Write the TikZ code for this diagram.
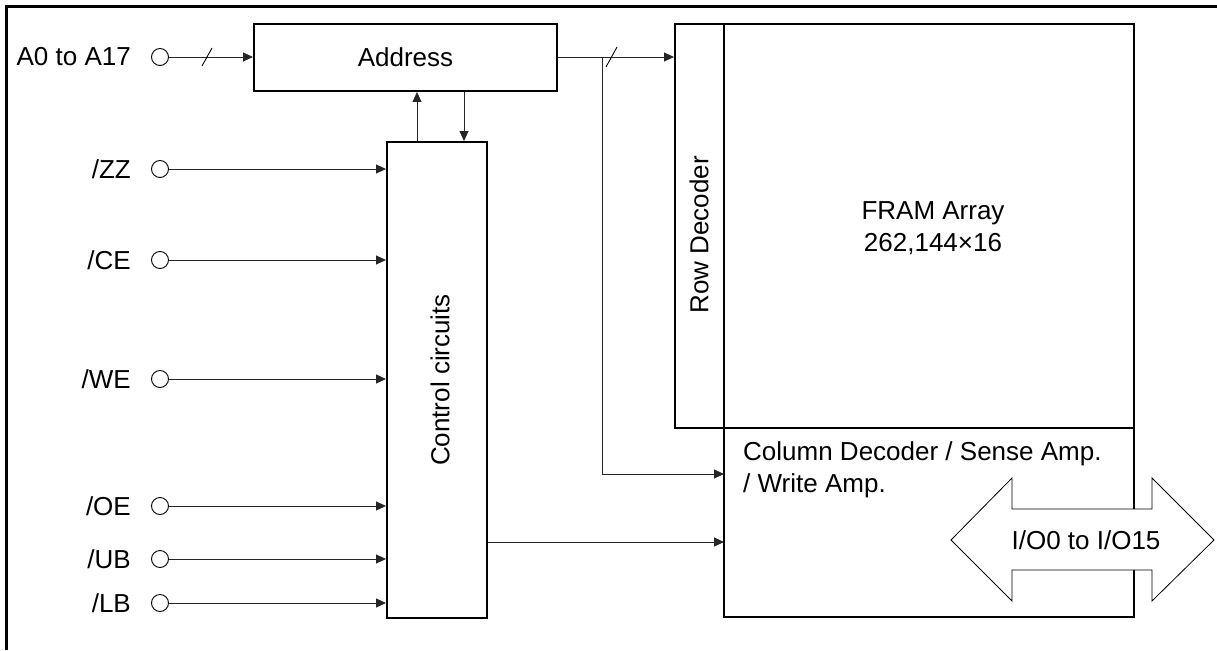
\documentclass[tikz,border=0pt]{standalone}
\usepackage{fontspec}
\setmainfont{Liberation Sans}
\usetikzlibrary{arrows.meta}

\begin{document}
\begin{tikzpicture}[
    x=1pt, y=-1pt,
    every node/.style={font=\fontsize{26}{32}\selectfont, inner sep=0pt},
    >={Triangle[length=10pt, width=9pt]},
    blk/.style={draw, line width=2pt},
    term/.style={circle, draw, line width=0.9pt, minimum size=17pt},
    sig/.style={->, line width=0.9pt, black!85},
]
\useasboundingbox (0,0) rectangle (1217,650);

% === Frame ===
\draw[line width=3pt] (6,650) -- (6,6.5) -- (1217,6.5);

% === Blocks ===
\node[blk, minimum width=303pt, minimum height=67pt] (addr) at (405.5,57.5) {Address};
\node[blk, minimum width=100pt, minimum height=476pt] (ctrl) at (437,380) {};
\node[rotate=90] (ctrltxt) at (440,380) {Control circuits};
\node[blk, minimum width=49pt, minimum height=404pt] (rowdec) at (699.5,226) {};
\node[rotate=90] (rowtxt) at (699,235) {Row Decoder};
\node[blk, minimum width=410pt, minimum height=404pt] (fram) at (929,226) {};
\node[align=center] (framtxt) at (933,228) {FRAM Array\\262,144×16};
\node[blk, minimum width=410pt, minimum height=189pt] (coldec) at (929,522.5) {};
\node[align=left, anchor=west] (coltxt) at (743,470) {Column Decoder / Sense Amp.\\/ Write Amp.};

% === Address input ===
\node[term] (pa) at (160,57) {};
\node[anchor=base east] (la) at (131,66) {A0 to A17};
\draw[sig] (pa) -- (pa -| addr.west);
\draw[line width=0.9pt] (202,66) -- (212,48);

% === Control inputs ===
\foreach \nm/\txt/\yy in {zz/ZZ/169, ce/CE/260, we/WE/379, oe/OE/506, ub/UB/559, lb/LB/603} {
    \node[term] (p\nm) at (160,\yy) {};
    \node[anchor=base east] (l\nm) at (131,\yy+9) {/\txt};
    \draw[sig] (p\nm) -- (p\nm -| ctrl.west);
}

% === Address <-> control ===
\draw[sig] ([xshift=-20pt]ctrl.north) -- ([xshift=-20pt]ctrl.north |- addr.south);
\draw[sig] ([xshift=27pt]ctrl.north |- addr.south) -- ([xshift=27pt]ctrl.north);

% === Address bus to decoders ===
\coordinate (br) at (602,57);
\coordinate (bc) at (724,474);
\draw[sig] (addr.east |- br) -- (br -| rowdec.west);
\draw[line width=0.9pt] (606,67) -- (617,47);
\draw[sig] (br) |- (bc);

% === Control to column decoder ===
\coordinate (cc) at (724,542);
\draw[sig] (cc -| ctrl.east) -- (cc);

% === Data bus ===
\draw[line width=0.8pt, fill=white]
    (951,540) -- (1012,478) -- (1012,509) -- (1152,509) -- (1152,478) -- (1214,540)
    -- (1152,601) -- (1152,570) -- (1012,570) -- (1012,601) -- cycle;
\node (io) at (1086,540) {I/O0 to I/O15};

\end{tikzpicture}
\end{document}
